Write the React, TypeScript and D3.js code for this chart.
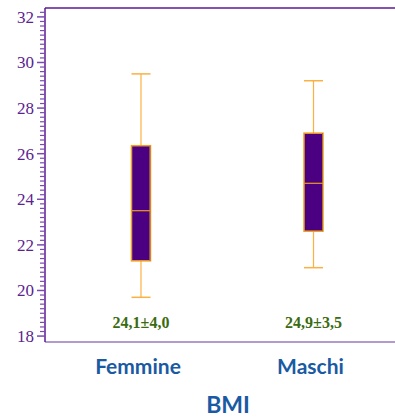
import React from "react";
import * as d3 from "d3";

const categories = ["Femmine", "Maschi"];
const whiskerLow = [19.7, 21.0];
const q1 = [21.3, 22.6];
const median = [23.5, 24.7];
const q3 = [26.35, 26.9];
const whiskerHigh = [29.5, 29.2];
const annotations = ["24,1±4,0", "24,9±3,5"];
const yTicks = [18, 20, 22, 24, 26, 28, 30, 32];
const axisTitle = "BMI";

const W = 395;
const H = 417;
const left = 45;
const top = 8;
const bottom = 342;
const serif = "'Liberation Serif', 'Times New Roman', serif";

export default function App() {
  const y = d3.scaleLinear().domain([17.74, 32.39]).range([bottom, top]);
  const x = d3.scalePoint<string>().domain(categories).range([141, 313.5]);
  const boxW = 19;
  const minorTicks = d3.range(18, 32.4, 0.2).filter(
    (v) => Math.abs(v / 2 - Math.round(v / 2)) > 0.01
  );
  const axisColor = "#5b1a96";
  return (
    <svg
      width={W}
      height={H}
      style={{ position: "absolute", left: 0, top: 0, background: "#fff" }}
    >
      <line x1={left} x2={W} y1={top} y2={top} stroke={axisColor} strokeWidth={1.5} />
      <line x1={left} x2={W} y1={bottom} y2={bottom} stroke="#9a78bc" strokeWidth={1.5} />
      <line x1={left} x2={left} y1={top} y2={bottom} stroke={axisColor} strokeWidth={1.5} />
      {minorTicks.map((v, i) => (
        <line
          key={"m" + i}
          x1={left - 5}
          x2={left}
          y1={y(v)}
          y2={y(v)}
          stroke="#7a4ab0"
          strokeWidth={1.2}
        />
      ))}
      {yTicks.map((t) => (
        <g key={t}>
          <line x1={left - 8} x2={left} y1={y(t)} y2={y(t)} stroke="#7a4ab0" strokeWidth={1.5} />
          <text
            x={34}
            y={y(t)}
            dy="0.35em"
            textAnchor="end"
            style={{ fontFamily: serif, fontSize: "17px" }}
            fill="#5a2390"
          >
            {t}
          </text>
        </g>
      ))}
      {categories.map((c, i) => {
        const cx = x(c)!;
        return (
          <g key={c}>
            <line x1={cx} x2={cx} y1={y(whiskerHigh[i])} y2={y(q3[i])} stroke="#fbb040" strokeWidth={1.2} />
            <line x1={cx} x2={cx} y1={y(q1[i])} y2={y(whiskerLow[i])} stroke="#fbb040" strokeWidth={1.2} />
            <line x1={cx - boxW / 2} x2={cx + boxW / 2} y1={y(whiskerHigh[i])} y2={y(whiskerHigh[i])} stroke="#fbb040" strokeWidth={1.5} />
            <line x1={cx - boxW / 2} x2={cx + boxW / 2} y1={y(whiskerLow[i])} y2={y(whiskerLow[i])} stroke="#fbb040" strokeWidth={1.5} />
            <rect
              x={cx - boxW / 2}
              y={y(q3[i])}
              width={boxW}
              height={y(q1[i]) - y(q3[i])}
              fill="#4b0082"
              stroke="#f0a020"
              strokeWidth={1.5}
            />
            <line
              x1={cx + boxW / 2 - 0.5}
              x2={cx + boxW / 2 - 0.5}
              y1={y(q3[i])}
              y2={y(q1[i])}
              stroke="#b0703a"
              strokeWidth={1}
            />
            <line x1={cx - boxW / 2} x2={cx + boxW / 2} y1={y(median[i])} y2={y(median[i])} stroke="#e0902a" strokeWidth={1.3} />
            <text
              x={cx}
              y={328}
              textAnchor="middle"
              style={{ fontFamily: serif, fontWeight: "bold", fontSize: "16px" }}
              fill="#3b6b10"
            >
              {annotations[i]}
            </text>
            <text
              x={cx - 3}
              y={374}
              textAnchor="middle"
              style={{ fontFamily: "Lato, sans-serif", fontWeight: "bold", fontSize: "21px" }}
              fill="#1a5aa3"
            >
              {c}
            </text>
          </g>
        );
      })}
      <text
        x={228}
        y={413}
        textAnchor="middle"
        style={{ fontFamily: "Lato, sans-serif", fontWeight: "bold", fontSize: "23px" }}
        fill="#1a5aa3"
      >
        {axisTitle}
      </text>
    </svg>
  );
}
